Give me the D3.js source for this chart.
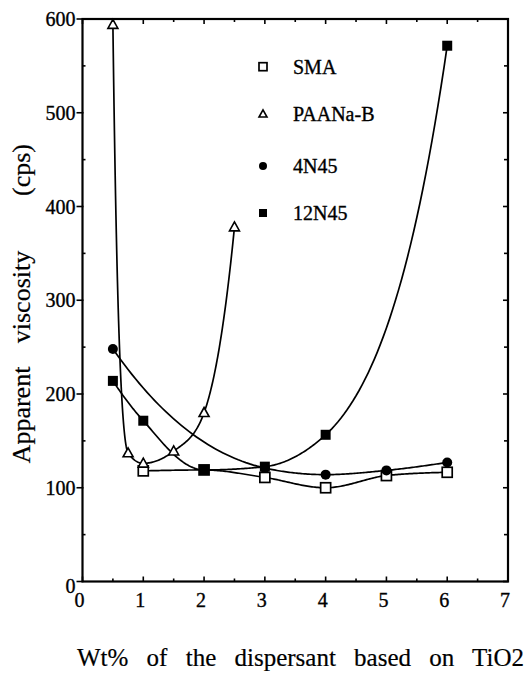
<!DOCTYPE html>
<html>
<head>
<meta charset="utf-8">
<script src="https://cdn.jsdelivr.net/npm/d3@7"></script>
<style>
  html, body { margin: 0; padding: 0; background: #fff; }
  svg { display: block; }
</style>
</head>
<body>
<script>
// ---- data ----
const xTicks = [0, 1, 2, 3, 4, 5, 6, 7];
const yTicks = [0, 100, 200, 300, 400, 500, 600];
const seriesNames = ["SMA", "PAANa-B", "4N45", "12N45"];

const smaX = [1, 2, 3, 4, 5, 6];
const smaY = [118, 119, 111, 100, 113, 116.5];

const paanaX = [0.5, 0.75, 1, 1.5, 2, 2.5];
const paanaY = [594, 137, 126, 139, 180, 378];

const n4X = [0.5, 3, 4, 5, 6];
const n4Y = [248, 121, 114, 118.5, 127];

const n12X = [0.5, 1, 2, 3, 4, 6];
const n12Y = [214, 171.5, 119, 122.5, 156.5, 571.5];

const xLabel = "Wt% of the dispersant based on TiO2";
const yLabelWords = ["Apparent", "viscosity", "(cps)"];

// ---- layout ----
const W = 526, H = 677;
const FONT = "'Liberation Serif', 'Times New Roman', Times, serif";
const x = d3.scaleLinear().domain([0, 7]).range([82.5, 508]);
const y = d3.scaleLinear().domain([0, 600]).range([581.5, 19]);

const svg = d3.select("body").append("svg").attr("width", W).attr("height", H)
  .style("font-family", FONT);

// monotone cubic (as in d3.curveMonotoneX) evaluated on log(values)
function smoothSamples(xs, ys, steps) {
  const n = xs.length;
  const v = ys.map(d => Math.log(d));
  const h = [], s = [];
  for (let i = 0; i < n - 1; i++) { h.push(xs[i + 1] - xs[i]); s.push((v[i + 1] - v[i]) / h[i]); }
  const t = new Array(n).fill(0);
  for (let i = 1; i < n - 1; i++) {
    const p = (s[i - 1] * h[i] + s[i] * h[i - 1]) / (h[i - 1] + h[i]);
    t[i] = (Math.sign(s[i - 1]) + Math.sign(s[i])) * Math.min(Math.abs(s[i - 1]), Math.abs(s[i]), 0.5 * Math.abs(p)) || 0;
  }
  if (n > 2) {
    t[0] = (3 * s[0] - t[1]) / 2;
    t[n - 1] = (3 * s[n - 2] - t[n - 2]) / 2;
  } else { t[0] = t[1] = s[0]; }
  const out = [];
  for (let i = 0; i < n - 1; i++) {
    for (let k = 0; k < steps; k++) {
      const u = k / steps;
      const h00 = 2*u*u*u - 3*u*u + 1, h10 = u*u*u - 2*u*u + u, h01 = -2*u*u*u + 3*u*u, h11 = u*u*u - u*u;
      const val = h00 * v[i] + h10 * h[i] * t[i] + h01 * v[i + 1] + h11 * h[i] * t[i + 1];
      out.push([xs[i] + u * h[i], Math.exp(val)]);
    }
  }
  out.push([xs[n - 1], ys[n - 1]]);
  return out;
}

const line = d3.line().x(d => x(d[0])).y(d => y(d[1]));

const series = [
  { name: seriesNames[0], xs: smaX, ys: smaY, marker: "openSquare" },
  { name: seriesNames[1], xs: paanaX, ys: paanaY, marker: "openTriangle" },
  { name: seriesNames[2], xs: n4X, ys: n4Y, marker: "circle" },
  { name: seriesNames[3], xs: n12X, ys: n12Y, marker: "filledSquare" }
];

// curves
series.forEach(s => {
  svg.append("path")
    .attr("d", line(smoothSamples(s.xs, s.ys, 40)))
    .attr("fill", "none").attr("stroke", "#000").attr("stroke-width", 1.7);
});

function drawMarker(g, type, cx, cy, size) {
  if (type === "openSquare") {
    g.append("rect").attr("x", cx - size / 2).attr("y", cy - size / 2)
      .attr("width", size).attr("height", size)
      .attr("fill", "#fff").attr("stroke", "#000").attr("stroke-width", 1.7);
  } else if (type === "filledSquare") {
    g.append("rect").attr("x", cx - size / 2).attr("y", cy - size / 2)
      .attr("width", size).attr("height", size).attr("fill", "#000");
  } else if (type === "circle") {
    g.append("circle").attr("cx", cx).attr("cy", cy).attr("r", size / 2).attr("fill", "#000");
  } else if (type === "openTriangle") {
    const r = size / 2;
    g.append("path")
      .attr("d", `M${cx},${cy - r * 1.05}L${cx + r},${cy + r * 0.75}L${cx - r},${cy + r * 0.75}Z`)
      .attr("fill", "#fff").attr("stroke", "#000").attr("stroke-width", 1.6);
  }
}

// markers
const mg = svg.append("g");
series.forEach(s => {
  s.xs.forEach((xv, i) => drawMarker(mg, s.marker, x(xv), y(s.ys[i]), 10));
});

// frame
svg.append("rect")
  .attr("x", x(0)).attr("y", y(600))
  .attr("width", x(7) - x(0)).attr("height", y(0) - y(600))
  .attr("fill", "none").attr("stroke", "#000").attr("stroke-width", 2.2);

// ticks
const tg = svg.append("g").attr("stroke", "#000").attr("stroke-width", 1.6);
const xMinor = d3.range(0.5, 7, 1);
xTicks.forEach(v => {
  tg.append("line").attr("x1", x(v)).attr("x2", x(v)).attr("y1", y(0)).attr("y2", y(0) - 5);
  tg.append("line").attr("x1", x(v)).attr("x2", x(v)).attr("y1", y(600)).attr("y2", y(600) + 5);
});
xMinor.forEach(v => {
  tg.append("line").attr("x1", x(v)).attr("x2", x(v)).attr("y1", y(0)).attr("y2", y(0) - 3);
  tg.append("line").attr("x1", x(v)).attr("x2", x(v)).attr("y1", y(600)).attr("y2", y(600) + 3);
});
const yMinor = d3.range(50, 600, 100);
yTicks.forEach(v => {
  tg.append("line").attr("x1", x(0) - 6).attr("x2", x(0) + 1).attr("y1", y(v)).attr("y2", y(v));
  tg.append("line").attr("x1", x(7)).attr("x2", x(7) - 5).attr("y1", y(v)).attr("y2", y(v));
});
yMinor.forEach(v => {
  tg.append("line").attr("x1", x(0)).attr("x2", x(0) + 3).attr("y1", y(v)).attr("y2", y(v));
  tg.append("line").attr("x1", x(7)).attr("x2", x(7) - 4).attr("y1", y(v)).attr("y2", y(v));
});

// tick labels
const textStyle = sel => sel.attr("font-family", FONT).attr("fill", "#000")
  .attr("stroke", "#000").attr("stroke-width", 0.35);
svg.append("g").selectAll("text").data(yTicks).join("text")
  .attr("x", x(0) - 7).attr("y", d => y(d)).attr("dy", d => d === 0 ? "0.55em" : "0.35em")
  .attr("text-anchor", "end").attr("font-size", 20).call(textStyle).text(d => d);
svg.append("g").selectAll("text").data(xTicks).join("text")
  .attr("x", d => x(d) - 3).attr("y", 607)
  .attr("text-anchor", "middle").attr("font-size", 20).call(textStyle).text(d => d);

// legend
const legendY = [66.7, 114, 166, 213];
series.forEach((s, i) => {
  drawMarker(svg, s.marker, 263, legendY[i], 8);
  svg.append("text").attr("x", 293).attr("y", legendY[i] + 7)
    .attr("font-size", 20).call(textStyle).text(s.name);
});

// axis titles
svg.append("text")
  .attr("x", 77).attr("y", 666)
  .attr("font-size", 25).attr("word-spacing", 12).call(textStyle).attr("stroke-width", 0.2)
  .text(xLabel);

const yLabelCenters = [415, 297, 170];
yLabelWords.forEach((w, i) => {
  svg.append("text")
    .attr("transform", `translate(30,${yLabelCenters[i]}) rotate(-90)`)
    .attr("text-anchor", "middle").attr("font-size", 26).call(textStyle).attr("stroke-width", 0.2)
    .text(w);
});
</script>
</body>
</html>
